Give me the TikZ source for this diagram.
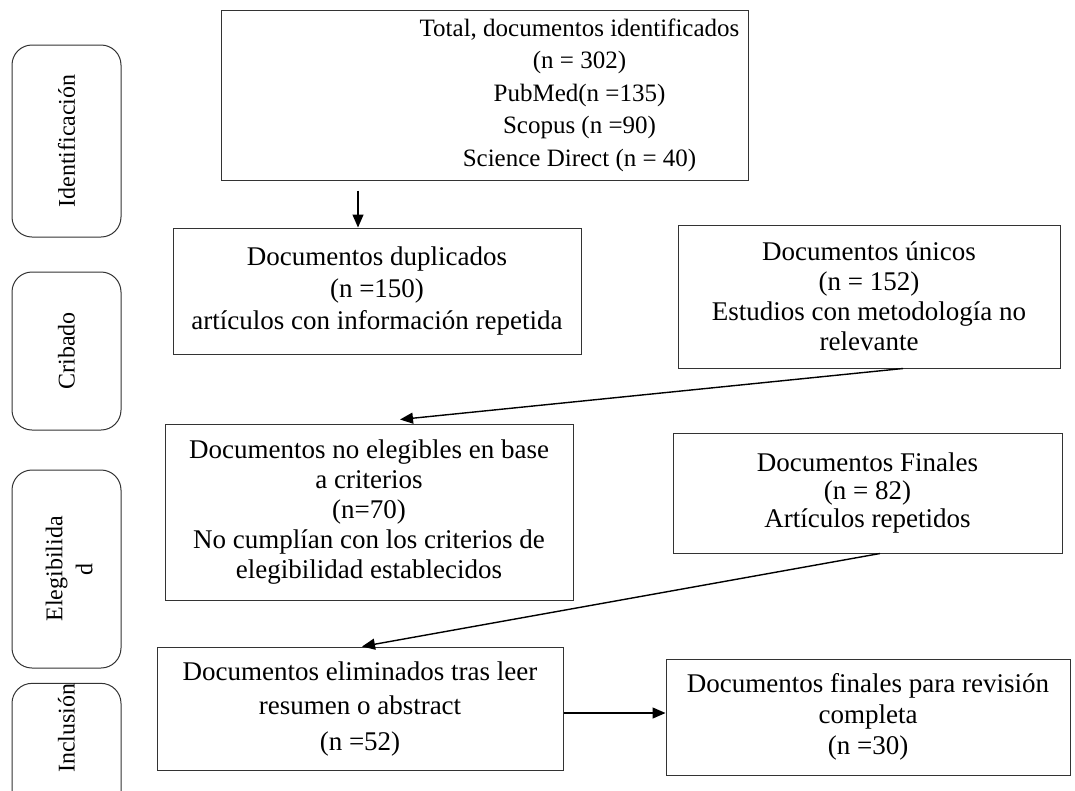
\documentclass[tikz,border=0pt]{standalone}
\usepackage{fontspec}
\setmainfont{Liberation Serif}
\usetikzlibrary{arrows.meta}

\tikzset{
	caja/.style={draw=black!80, line width=1pt, align=center, inner sep=0pt,
		font=\fontsize{27}{30}\selectfont},
	etapa/.style={draw=black!80, line width=1pt, rounded corners=20pt, rotate=90,
		minimum height=109pt, inner sep=0pt, align=center,
		font=\fontsize{24}{28}\selectfont},
	flecha/.style={-{Triangle[length=13pt,width=11pt]}, line width=1.4pt}
}

\begin{document}
\begin{tikzpicture}[x=1pt, y=-1pt]
		\useasboundingbox (0,0) rectangle (1075,790);
		%		\draw[lightgray] (0,0) grid[step=50] (1075,790);
				% etapas
				\node[etapa, minimum width=192pt] (ident) at (66.5,141) {Identificación};
				\node[etapa, minimum width=158pt] (crib) at (66.5,351) {Cribado};
				\node[etapa, minimum width=198pt] (eleg) at (66.5,569) {\mbox{}\\[-6pt]Elegibilida\\[2pt]d};
				\node[etapa, minimum width=150pt] (incl) at (66.5,773) {\hspace*{90pt}Inclusión};
				
				% cajas
				\node[caja, minimum width=527pt, minimum height=170pt,
				font=\fontsize{25}{32.5}\selectfont] (total) at (484.5,95)
				{\hspace*{190pt}Total, documentos identificados\\\hspace*{190pt}(n = 302)\\\hspace*{190pt}PubMed(n =135)\\\hspace*{190pt}Scopus (n =90)\\\hspace*{190pt}Science Direct (n = 40)};
				\node[caja, minimum width=408pt, minimum height=126pt] (dup) at (377,291)
				{Documentos duplicados\\[2pt](n =150)\\[2pt]artículos con información repetida};
				\node[caja, minimum width=382pt, minimum height=143pt] (unicos) at (869,296.5)
				{Documentos únicos\\(n = 152)\\Estudios con metodología no\\relevante};
				\node[caja, minimum width=408pt, minimum height=176pt] (noeleg) at (369,512)
				{Documentos no elegibles en base\\a criterios\\(n=70)\\No cumplían con los criterios de\\elegibilidad establecidos};
				\node[caja, minimum width=389pt, minimum height=120pt] (finales) at (867.5,493)
				{Documentos Finales\\[-2pt](n = 82)\\[-2pt]Artículos repetidos};
				\node[caja, minimum width=406pt, minimum height=123pt] (elim) at (360,708.5)
				{Documentos eliminados tras leer\\[4pt]resumen o abstract\\[6pt](n =52)};
				\node[caja, minimum width=404pt, minimum height=116pt] (revision) at (868,717)
				{Documentos finales para revisión\\[1pt]completa\\[1pt](n =30)};
				
				% flechas
				\draw[flecha] ([shift={(-126.5,10)}]total.south) -- ([xshift=-19pt]dup.north);
				\draw[flecha] ([xshift=34pt]unicos.south) -- ([shift={(31,-4)}]noeleg.north);
				\draw[flecha] ([xshift=12.5pt]finales.south) -- ([xshift=2pt]elim.north);
				\draw[flecha] ([yshift=-4.5pt]elim.east) -- ([yshift=4pt]revision.west);
				
			\end{tikzpicture}
\end{document}
